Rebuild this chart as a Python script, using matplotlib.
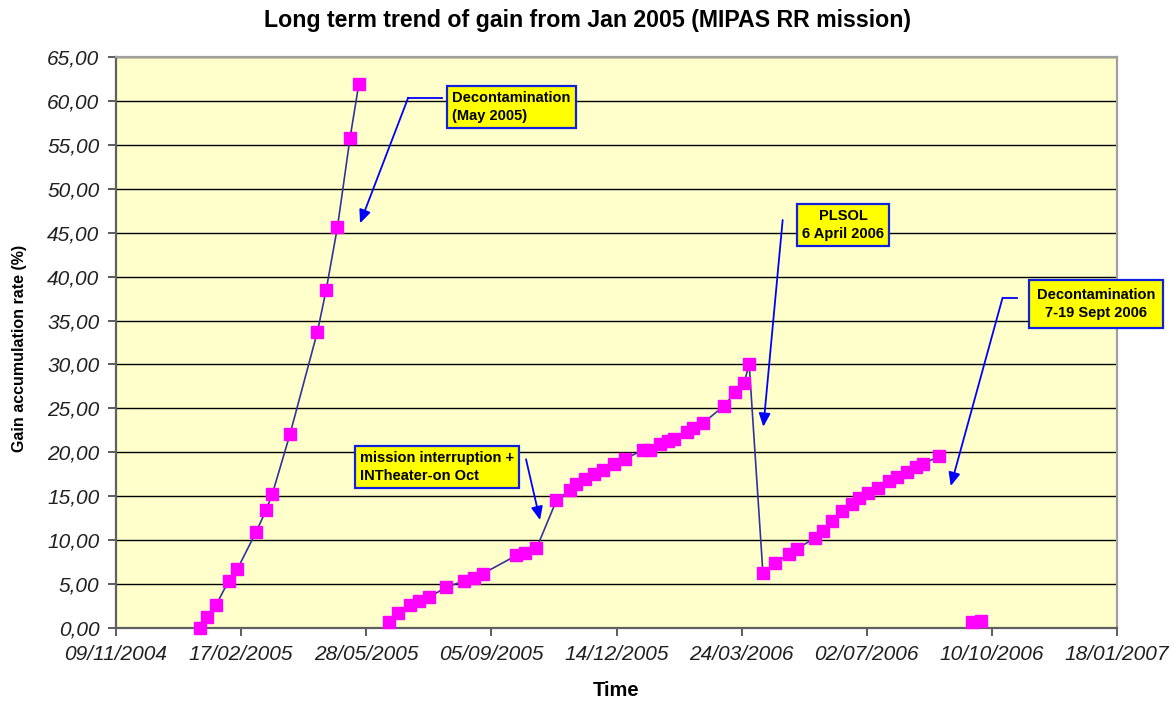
import matplotlib
matplotlib.use("Agg")
import matplotlib.pyplot as plt
import matplotlib.dates as mdates
from matplotlib.ticker import FuncFormatter, MultipleLocator
import pandas as pd

plt.rcParams['font.family'] = ['Liberation Sans', 'DejaVu Sans']

# ---- data ----
seg1_dates = ['2005-01-15', '2005-01-21', '2005-01-28', '2005-02-07', '2005-02-14',
              '2005-03-01', '2005-03-09', '2005-03-14', '2005-03-28', '2005-04-19',
              '2005-04-26', '2005-05-05', '2005-05-15', '2005-05-22']
seg1_vals = [0.00, 1.27, 2.62, 5.36, 6.71, 10.94, 13.43, 15.29, 22.04, 33.74,
             38.51, 45.65, 55.74, 61.87]

seg2_dates = ['2005-06-15', '2005-06-22', '2005-07-02', '2005-07-09', '2005-07-17',
              '2005-07-31', '2005-08-14', '2005-08-22', '2005-08-29', '2005-09-25',
              '2005-10-02', '2005-10-11', '2005-10-27', '2005-11-07', '2005-11-12',
              '2005-11-19', '2005-11-26', '2005-12-03', '2005-12-12', '2005-12-21',
              '2006-01-04', '2006-01-10', '2006-01-18', '2006-01-24', '2006-01-29',
              '2006-02-08', '2006-02-13', '2006-02-21', '2006-03-10', '2006-03-19',
              '2006-03-26', '2006-03-30', '2006-04-10', '2006-04-20', '2006-05-01',
              '2006-05-07', '2006-05-22', '2006-05-28', '2006-06-04', '2006-06-12',
              '2006-06-20', '2006-06-26', '2006-07-03', '2006-07-11', '2006-07-20',
              '2006-07-26', '2006-08-03', '2006-08-10', '2006-08-16', '2006-08-29']
seg2_vals = [0.68, 1.70, 2.61, 3.07, 3.48, 4.66, 5.34, 5.72, 6.17, 8.26,
             8.52, 9.05, 14.52, 15.69, 16.38, 16.95, 17.50, 18.00, 18.70, 19.26,
             20.25, 20.30, 20.90, 21.30, 21.50, 22.30, 22.80, 23.30, 25.30, 26.85,
             27.84, 30.10, 6.29, 7.39, 8.45, 8.98, 10.30, 11.06, 12.20, 13.30,
             14.17, 14.85, 15.34, 15.98, 16.74, 17.23, 17.80, 18.30, 18.70, 19.55]

seg3_dates = ['2006-09-24', '2006-10-01']
seg3_vals = [0.65, 0.83]

x_start = '2004-11-09'
x_tick_step_days = 100
n_ticks = 9

title = 'Long term trend of gain from Jan 2005 (MIPAS RR mission)'
xlabel = 'Time'
ylabel = 'Gain accumulation rate (%)'

# ---- figure ----
fig = plt.figure(figsize=(11.74, 7.01), dpi=100)
fig.patch.set_facecolor('white')
ax = fig.add_axes([116/1174, 1 - 628/701, (1117-116)/1174, (628-57)/701])
ax.set_facecolor('#FFFFCC')

line_kw = dict(color='#333399', lw=1.2, marker='s', markersize=8,
               markerfacecolor='#FF00FF', markeredgecolor='#FF00FF', zorder=3,
               clip_on=False)
for d, v in [(seg1_dates, seg1_vals), (seg2_dates, seg2_vals), (seg3_dates, seg3_vals)]:
    ax.plot(pd.to_datetime(d), v, **line_kw)

ticks = pd.date_range(x_start, periods=n_ticks, freq=f'{x_tick_step_days}D')
ax.set_xlim(ticks[0], ticks[-1])
ax.set_xticks(ticks)
ax.xaxis.set_major_formatter(mdates.DateFormatter('%d/%m/%Y'))
ax.set_ylim(0, 65)
ax.yaxis.set_major_locator(MultipleLocator(5))
ax.yaxis.set_major_formatter(FuncFormatter(lambda v, p: f'{v:.2f}'.replace('.', ',')))

ax.grid(axis='y', color='black', lw=1.0, zorder=1)
ax.set_axisbelow(True)
for s in ['left', 'bottom']:
    ax.spines[s].set_color('#606060')
    ax.spines[s].set_linewidth(1.6)
for s in ['right', 'top']:
    ax.spines[s].set_color('#A0A0A0')
    ax.spines[s].set_linewidth(1.6)
ax.tick_params(axis='both', direction='out', length=6, width=1.2, color='#404040',
               labelsize=15, pad=6)
for lab in ax.get_xticklabels() + ax.get_yticklabels():
    lab.set_fontstyle('italic')
    lab.set_color('#202020')

fig.text(587/1174, 1 - 21/701, title, fontsize=16.7, fontweight='bold',
         ha='center', va='center')
ax.set_xlabel(xlabel, fontsize=14.5, fontweight='bold')
ax.xaxis.set_label_coords(0.5, -0.093)
ax.set_ylabel(ylabel, fontsize=11.5, fontweight='bold')
ax.yaxis.set_label_coords(-0.089, 0.49)

# ---- annotations ----
box = dict(boxstyle='square,pad=0.35', fc='#FFFF00', ec='#1020E0', lw=1.6)
akw = dict(arrowstyle='-|>,head_length=0.8,head_width=0.35', color='#0000FF',
           lw=1.3, shrinkA=0, shrinkB=0)
tkw = dict(transform=ax.transAxes, fontsize=10.5, fontweight='bold', zorder=5,
           bbox=box, linespacing=1.35)

ax.text(0.3357, 0.9124, 'Decontamination\n(May 2005)', ha='left', va='center', **tkw)
ax.plot([0.3253, 0.2919], [0.9287, 0.9287], color='#0000FF', lw=1.3,
        transform=ax.transAxes, zorder=4)
ax.annotate('', xy=(0.2438, 0.7088), xytext=(0.2919, 0.9287),
            xycoords='axes fraction', arrowprops=akw, zorder=4)

ax.text(0.7263, 0.7058, 'PLSOL\n6 April 2006', ha='center', va='center',
        multialignment='center', **tkw)
ax.annotate('', xy=(0.6467, 0.3525), xytext=(0.6660, 0.7145),
            xycoords='axes fraction', arrowprops=akw, zorder=4)

sept_box = dict(boxstyle='square,pad=0.55', fc='#FFFF00', ec='#1020E0', lw=1.6)
tkw_sept = dict(tkw)
tkw_sept['bbox'] = sept_box
ax.text(0.979, 0.5674, 'Decontamination\n7-19 Sept 2006', ha='center', va='center',
        multialignment='center', **tkw_sept)
ax.plot([0.8998, 0.8857], [0.5784, 0.5784], color='#0000FF', lw=1.3,
        transform=ax.transAxes, zorder=4)
ax.annotate('', xy=(0.8339, 0.2487), xytext=(0.8857, 0.5784),
            xycoords='axes fraction', arrowprops=akw, zorder=4)

ax.text(0.2435, 0.2825, 'mission interruption +\nINTheater-on Oct', ha='left',
        va='center', **tkw)
ax.annotate('', xy=(0.4236, 0.1891), xytext=(0.4096, 0.2955),
            xycoords='axes fraction', arrowprops=akw, zorder=4)

fig.savefig('out.png', dpi=100)
